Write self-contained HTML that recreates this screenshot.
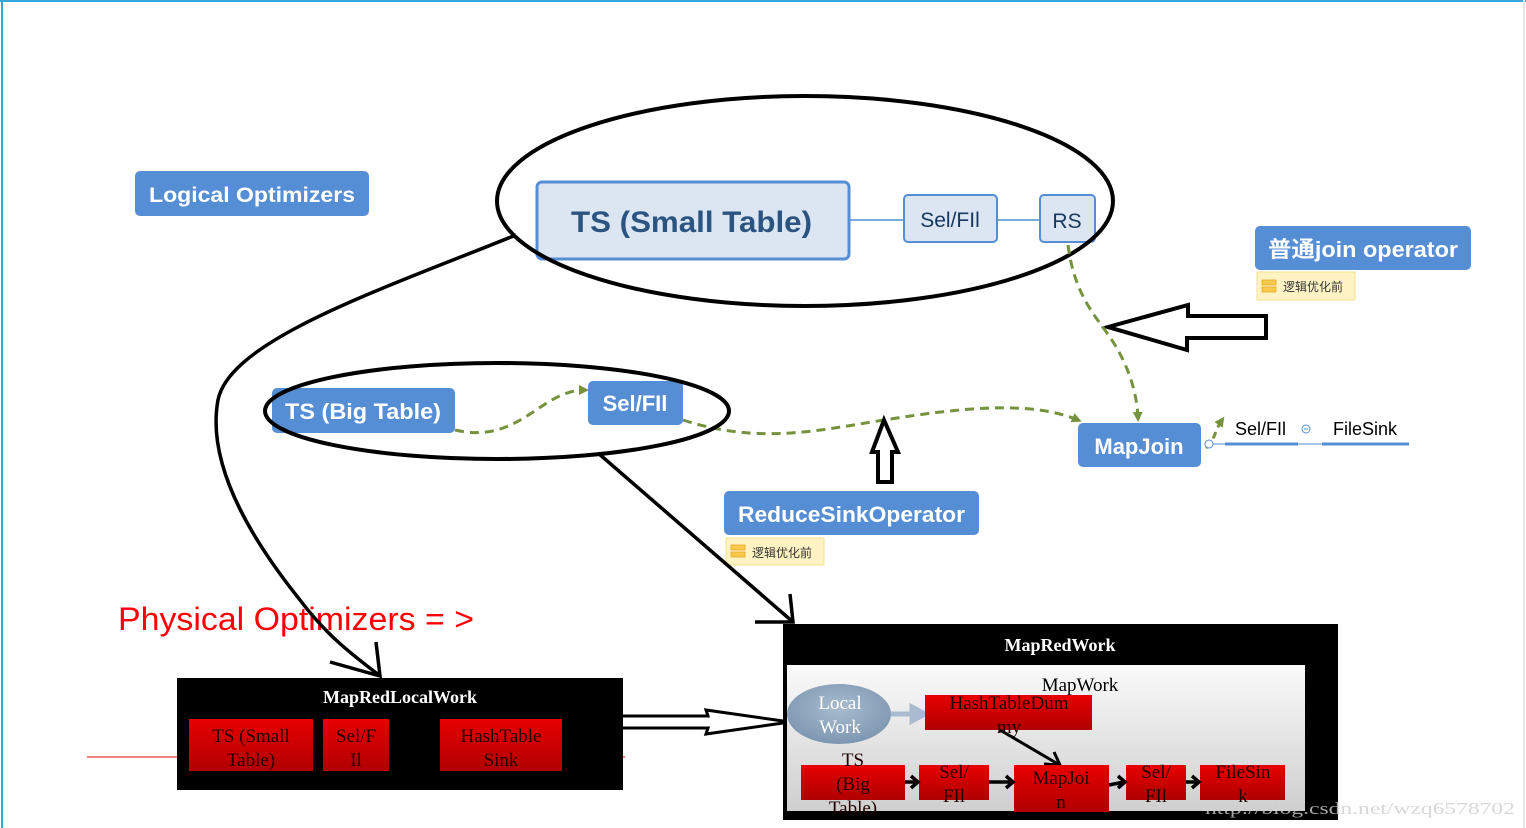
<!DOCTYPE html>
<html><head><meta charset="utf-8"><style>
html,body{margin:0;padding:0;background:#fff;}
svg{display:block;}
text{font-family:"Liberation Sans","Noto Sans CJK SC",sans-serif;}
.serif{font-family:"Liberation Serif","Noto Serif CJK SC",serif;}
</style></head><body>
<svg width="1526" height="828" viewBox="0 0 1526 828" xmlns="http://www.w3.org/2000/svg">
<defs>
<linearGradient id="red" x1="0" y1="0" x2="0" y2="1"><stop offset="0" stop-color="#e80000"/><stop offset="1" stop-color="#b00000"/></linearGradient>
<linearGradient id="inner" x1="0" y1="0" x2="0" y2="1"><stop offset="0" stop-color="#fafafa"/><stop offset="1" stop-color="#cfcfcf"/></linearGradient>
<radialGradient id="lw" cx="0.5" cy="0.4" r="0.6"><stop offset="0" stop-color="#a9bccf"/><stop offset="1" stop-color="#7d96b0"/></radialGradient>
<marker id="ga" markerWidth="10" markerHeight="10" refX="6" refY="5" orient="auto" markerUnits="userSpaceOnUse" viewBox="0 0 10 10"><path d="M0,0 L10,5 L0,10z" fill="#76923c"/></marker>
</defs>
<rect x="0" y="0" width="1526" height="828" fill="#fff"/>
<line x1="0" y1="1" x2="1526" y2="1" stroke="#33a6dc" stroke-width="2"/>
<line x1="2" y1="0" x2="2" y2="828" stroke="#33a6dc" stroke-width="2"/>
<line x1="1524" y1="0" x2="1524" y2="828" stroke="#e6e6e6" stroke-width="2"/>

<rect x="135" y="171" width="234" height="45" rx="5" fill="#558ed5"/>
<text x="149" y="202" fill="#fff" font-size="21" font-weight="bold" textLength="206" lengthAdjust="spacingAndGlyphs">Logical Optimizers</text>

<line x1="849" y1="220" x2="904" y2="220" stroke="#558ed5" stroke-width="1.5"/>
<line x1="997" y1="220" x2="1040" y2="220" stroke="#558ed5" stroke-width="1.5"/>
<rect x="537" y="182" width="312" height="77" rx="5" fill="#dce6f2" stroke="#558ed5" stroke-width="3"/>
<text x="571" y="232" fill="#2b5480" font-size="30" font-weight="bold" textLength="241" lengthAdjust="spacingAndGlyphs">TS (Small Table)</text>
<rect x="904" y="195" width="93" height="47" rx="4" fill="#dce6f2" stroke="#558ed5" stroke-width="2"/>
<text x="950" y="227" fill="#17375e" font-size="21" text-anchor="middle">Sel/FIl</text>
<rect x="1040" y="195" width="55" height="47" rx="4" fill="#dce6f2" stroke="#558ed5" stroke-width="2"/>
<text x="1067" y="228" fill="#17375e" font-size="21" text-anchor="middle">RS</text>
<ellipse cx="805" cy="201" rx="308" ry="105" fill="none" stroke="#000" stroke-width="4"/>

<rect x="1255" y="226" width="216" height="44" rx="5" fill="#558ed5"/>
<text x="1268" y="257" fill="#fff" font-size="22" font-weight="bold" textLength="190" lengthAdjust="spacingAndGlyphs">普通join operator</text>
<rect x="1257" y="272" width="98" height="28" fill="#fff3c4" stroke="#f3e08c"/>
<rect x="1262" y="280" width="14" height="5" fill="#f8c94d" stroke="#e6a927" stroke-width="0.8"/>
<rect x="1262" y="287" width="14" height="5" fill="#f8c94d" stroke="#e6a927" stroke-width="0.8"/>
<text x="1283" y="291" fill="#333" font-size="12">逻辑优化前</text>

<path d="M1108,327 L1188,305 L1188,316 L1266,316 L1266,338 L1187,338 L1187,350 Z" fill="#fff" stroke="#000" stroke-width="4" stroke-linejoin="miter"/>

<path d="M1068,245 C1075,300 1100,320 1115,345 C1130,370 1137,395 1138,418" fill="none" stroke="#76923c" stroke-width="3" stroke-dasharray="9,6" marker-end="url(#ga)"/>
<path d="M455,430 C520,445 540,390 585,390" fill="none" stroke="#76923c" stroke-width="3" stroke-dasharray="9,6" marker-end="url(#ga)"/>
<path d="M683,420 C760,445 820,430 884,420 C960,408 1030,400 1078,420" fill="none" stroke="#76923c" stroke-width="3" stroke-dasharray="9,6" marker-end="url(#ga)"/>
<path d="M1206,448 C1215,440 1215,430 1222,420" fill="none" stroke="#76923c" stroke-width="3" stroke-dasharray="7,5" marker-end="url(#ga)"/>

<rect x="272" y="388" width="183" height="45" rx="5" fill="#558ed5"/>
<text x="285" y="419" fill="#fff" font-size="22" font-weight="bold" textLength="156" lengthAdjust="spacingAndGlyphs">TS (Big Table)</text>
<rect x="588" y="381" width="95" height="44" rx="5" fill="#558ed5"/>
<text x="635" y="411" fill="#fff" font-size="22" font-weight="bold" text-anchor="middle">Sel/FIl</text>
<ellipse cx="497" cy="411" rx="232" ry="48" fill="none" stroke="#000" stroke-width="4"/>

<rect x="1078" y="423" width="123" height="44" rx="5" fill="#558ed5"/>
<text x="1139" y="454" fill="#fff" font-size="22" font-weight="bold" text-anchor="middle">MapJoin</text>
<circle cx="1209" cy="444" r="4" fill="#fff" stroke="#558ed5" stroke-width="1"/>
<line x1="1213" y1="444" x2="1408" y2="444" stroke="#558ed5" stroke-width="1"/>
<line x1="1225" y1="444" x2="1298" y2="444" stroke="#558ed5" stroke-width="3"/>
<line x1="1322" y1="444" x2="1409" y2="444" stroke="#558ed5" stroke-width="3"/>
<text x="1235" y="435" fill="#000" font-size="18">Sel/FIl</text>
<circle cx="1306" cy="429" r="4" fill="none" stroke="#558ed5" stroke-width="1"/>
<line x1="1304" y1="429" x2="1308" y2="429" stroke="#558ed5" stroke-width="1"/>
<text x="1333" y="435" fill="#000" font-size="18">FileSink</text>

<path d="M884,420 L898,452 L892,452 L892,482 L878,482 L878,452 L872,452 Z" fill="#fff" stroke="#000" stroke-width="4"/>

<rect x="724" y="491" width="255" height="44" rx="5" fill="#558ed5"/>
<text x="738" y="522" fill="#fff" font-size="22" font-weight="bold" textLength="227" lengthAdjust="spacingAndGlyphs">ReduceSinkOperator</text>
<rect x="726" y="538" width="98" height="27" fill="#fff3c4" stroke="#f3e08c"/>
<rect x="731" y="545" width="14" height="5" fill="#f8c94d" stroke="#e6a927" stroke-width="0.8"/>
<rect x="731" y="552" width="14" height="5" fill="#f8c94d" stroke="#e6a927" stroke-width="0.8"/>
<text x="752" y="557" fill="#333" font-size="12">逻辑优化前</text>

<text x="118" y="630" fill="#ff0000" font-size="32" textLength="356" lengthAdjust="spacingAndGlyphs">Physical Optimizers = &gt;</text>

<path d="M516,235 C380,290 230,340 218,400 C205,470 260,550 300,600 C330,640 360,660 380,676" fill="none" stroke="#000" stroke-width="3.5"/>
<path d="M330,662 L380,676 L376,642" fill="none" stroke="#000" stroke-width="3.5"/>
<path d="M598,453 L793,622" fill="none" stroke="#000" stroke-width="3.5"/>
<path d="M755,622 L793,622 L790,594" fill="none" stroke="#000" stroke-width="3.5"/>

<line x1="87" y1="757" x2="625" y2="757" stroke="#d00" stroke-width="1"/>

<rect x="177" y="678" width="446" height="112" fill="#000"/>
<text x="400" y="703" class="serif" fill="#fff" font-size="18" font-weight="bold" text-anchor="middle">MapRedLocalWork</text>
<rect x="189" y="719" width="124" height="52" fill="url(#red)"/>
<text x="251" y="742" class="serif" fill="#200" font-size="19" text-anchor="middle">TS (Small</text>
<text x="251" y="766" class="serif" fill="#200" font-size="19" text-anchor="middle">Table)</text>
<rect x="323" y="719" width="66" height="52" fill="url(#red)"/>
<text x="356" y="742" class="serif" fill="#200" font-size="19" text-anchor="middle">Sel/F</text>
<text x="356" y="766" class="serif" fill="#200" font-size="19" text-anchor="middle">Il</text>
<rect x="440" y="719" width="122" height="52" fill="url(#red)"/>
<text x="501" y="742" class="serif" fill="#200" font-size="19" text-anchor="middle">HashTable</text>
<text x="501" y="766" class="serif" fill="#200" font-size="19" text-anchor="middle">Sink</text>

<path d="M623,716 L708,716 L706,710 L790,722 L706,734 L708,728 L623,728" fill="#fff" stroke="#000" stroke-width="3"/>

<rect x="783" y="624" width="555" height="196" fill="#000"/>
<text x="1060" y="651" class="serif" fill="#fff" font-size="18" font-weight="bold" text-anchor="middle">MapRedWork</text>
<rect x="787" y="665" width="518" height="146" fill="url(#inner)"/>
<text x="1080" y="691" class="serif" fill="#000" font-size="19" text-anchor="middle">MapWork</text>
<ellipse cx="839" cy="714" rx="52" ry="30" fill="url(#lw)"/>
<text x="840" y="709" class="serif" fill="#fff" font-size="19" text-anchor="middle">Local</text>
<text x="840" y="733" class="serif" fill="#fff" font-size="19" text-anchor="middle">Work</text>
<path d="M891,714 L912,714 L912,707 L925,714 L912,721 L912,714" fill="#a9bccf" stroke="#a9bccf" stroke-width="5"/>
<rect x="925" y="695" width="167" height="35" fill="url(#red)"/>
<text x="1009" y="709" class="serif" fill="#200" font-size="19" text-anchor="middle">HashTableDum</text>
<text x="1009" y="733" class="serif" fill="#200" font-size="19" text-anchor="middle">my</text>
<path d="M1000,730 L1058,764" stroke="#000" stroke-width="3"/>
<path d="M1044,764 L1060,765 L1054,752" fill="none" stroke="#000" stroke-width="3"/>
<rect x="801" y="765" width="104" height="35" fill="url(#red)"/>
<text x="853" y="766" class="serif" fill="#200" font-size="19" text-anchor="middle">TS</text>
<text x="853" y="790" class="serif" fill="#200" font-size="19" text-anchor="middle">(Big</text>
<text x="853" y="814" class="serif" fill="#200" font-size="19" text-anchor="middle">Table)</text>
<rect x="919" y="765" width="70" height="35" fill="url(#red)"/>
<text x="954" y="778" class="serif" fill="#200" font-size="19" text-anchor="middle">Sel/</text>
<text x="954" y="802" class="serif" fill="#200" font-size="19" text-anchor="middle">FIl</text>
<rect x="1014" y="765" width="95" height="47" fill="url(#red)"/>
<text x="1061" y="784" class="serif" fill="#200" font-size="19" text-anchor="middle">MapJoi</text>
<text x="1061" y="808" class="serif" fill="#200" font-size="19" text-anchor="middle">n</text>
<rect x="1126" y="765" width="60" height="35" fill="url(#red)"/>
<text x="1156" y="778" class="serif" fill="#200" font-size="19" text-anchor="middle">Sel/</text>
<text x="1156" y="802" class="serif" fill="#200" font-size="19" text-anchor="middle">FIl</text>
<rect x="1200" y="765" width="85" height="35" fill="url(#red)"/>
<text x="1243" y="778" class="serif" fill="#200" font-size="19" text-anchor="middle">FileSin</text>
<text x="1243" y="802" class="serif" fill="#200" font-size="19" text-anchor="middle">k</text>
<g stroke="#000" stroke-width="3.5" fill="none">
<path d="M905,782 L917,782 M911,776 L918,782 L911,788"/>
<path d="M989,782 L1012,782 M1006,776 L1013,782 L1006,788"/>
<path d="M1109,785 L1124,782 M1118,776 L1125,782 L1118,788"/>
<path d="M1186,782 L1198,782 M1192,776 L1199,782 L1192,788"/>
</g>
<text x="1205" y="814" class="serif" fill="#cfcfcf" font-size="17" opacity="0.8" textLength="310" lengthAdjust="spacingAndGlyphs">http://blog.csdn.net/wzq6578702</text>
</svg>
</body></html>
